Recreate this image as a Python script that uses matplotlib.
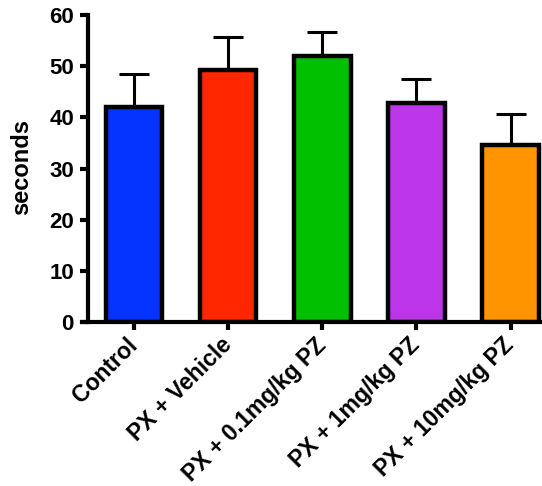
import matplotlib as mpl
mpl.use('Agg')
import matplotlib.pyplot as plt

plt.rcParams['font.family'] = ['Liberation Sans', 'DejaVu Sans']
plt.rcParams['font.weight'] = 'bold'

groups = ['Control', 'PX + Vehicle', 'PX + 0.1mg/kg PZ', 'PX + 1mg/kg PZ', 'PX + 10mg/kg PZ']
means = [42.1, 49.3, 52.0, 42.8, 34.7]
sem = [6.3, 6.4, 4.7, 4.7, 5.9]
colors = ['#0433FF', '#FF2600', '#00C000', '#BD35E8', '#FF9300']
yticks = [0, 10, 20, 30, 40, 50, 60]

fig = plt.figure(figsize=(5.42, 4.86), dpi=100)
ax = fig.add_axes([0.162, 0.337, 0.86, 0.632])

x = list(range(len(groups)))
# error bars go behind the bars so only the upper half shows
ax.errorbar(x, means, yerr=[[0] * len(sem), sem], fmt='none', ecolor='black',
            elinewidth=2.2, capsize=11, capthick=2.2, zorder=1)
ax.bar(x, means, width=0.6, color=colors, edgecolor='black', linewidth=3.2, zorder=2)

ax.set_ylim(0, 60)
ax.set_xlim(-0.49, 4.46)
ax.set_yticks(yticks)
ax.set_xticks(x)
ax.set_xticklabels(groups, rotation=45, ha='right', va='center', rotation_mode='anchor',
                   fontsize=16.6)
ax.set_ylabel('seconds', fontsize=17, fontweight='bold')
ax.yaxis.set_label_coords(-0.118, 0.505)

for s in ['top', 'right']:
    ax.spines[s].set_visible(False)
for s in ['left', 'bottom']:
    ax.spines[s].set_linewidth(3)
ax.tick_params(axis='both', width=3, length=6, direction='out')
ax.tick_params(axis='y', pad=4, labelsize=16)
ax.tick_params(axis='x', pad=8)
ax.spines['bottom'].set_bounds(-0.55, 4.6)

fig.savefig('out.png', dpi=100)
